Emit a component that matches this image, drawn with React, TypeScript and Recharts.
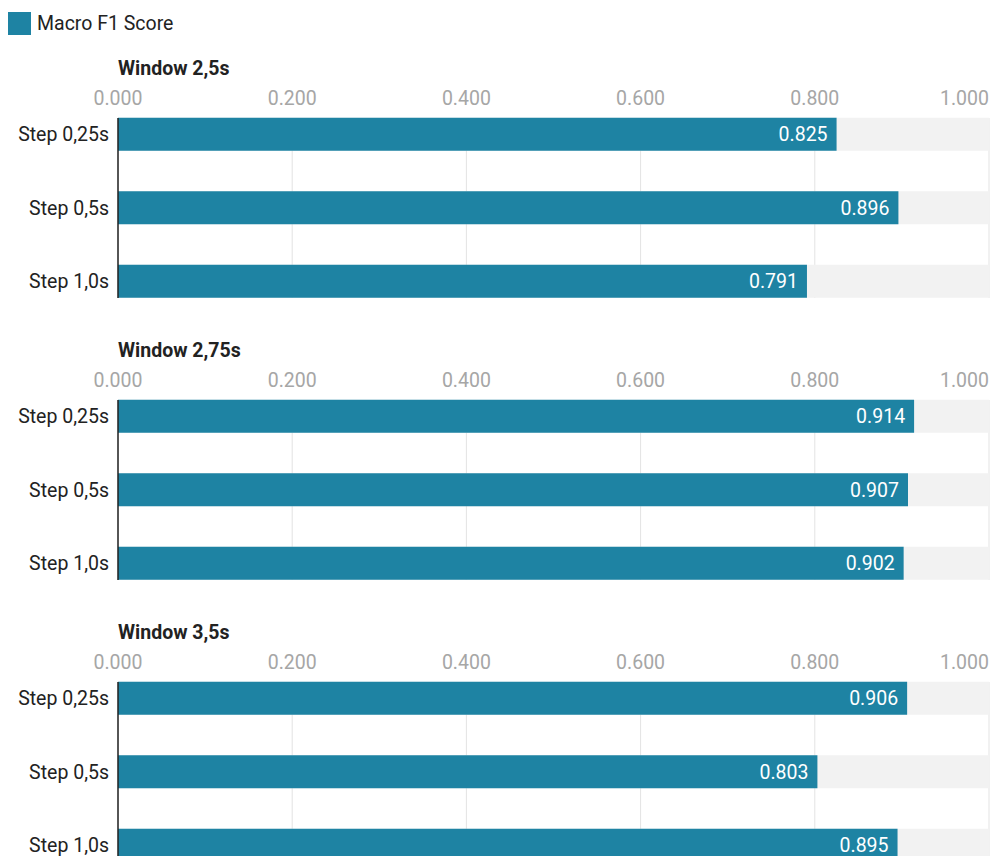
import { Bar, BarChart, CartesianGrid, LabelList, XAxis, YAxis } from "recharts";

const steps = ["Step 0,25s", "Step 0,5s", "Step 1,0s"];
const windows = ["Window 2,5s", "Window 2,75s", "Window 3,5s"];
const window25 = [0.825, 0.896, 0.791];
const window275 = [0.914, 0.907, 0.902];
const window35 = [0.906, 0.803, 0.895];
const xTicks = [0, 0.2, 0.4, 0.6, 0.8, 1.0];

const seriesByWindow = [window25, window275, window35];

const BAR_COLOR = "#1e83a3";
const FONT = "Roboto, 'Noto Sans', sans-serif";
const TEXT_SIZE = 19.5;
const PANEL_PITCH = 282;

// top-axis tick; the last label is pulled in so it ends on the 1.000 gridline
function XTick(props: any) {
  const { x, y, payload } = props;
  const last = payload.value === 1;
  return (
    <text
      x={x}
      y={y}
      dy={-3}
      textAnchor={last ? "end" : "middle"}
      fill="#a6a6a6"
      fontSize={TEXT_SIZE}
      fontFamily={FONT}
    >
      {Number(payload.value).toFixed(3)}
    </text>
  );
}

function Panel({ title, values, top }: { title: string; values: number[]; top: number }) {
  const data = steps.map((step, i) => ({ step, score: values[i] }));

  return (
    <div style={{ position: "absolute", left: 0, top, width: 992, height: PANEL_PITCH + 40 }}>
      <div
        style={{
          position: "absolute",
          left: 118,
          top: 57,
          fontSize: 19.5,
          lineHeight: "24px",
          fontWeight: 700,
          color: "#222",
        }}
      >
        {title}
      </div>
      <div style={{ position: "absolute", left: 0, top: 40 }}>
        <BarChart
          width={992}
          height={282}
          data={data}
          layout="vertical"
          margin={{ top: 48, right: 3, bottom: 24, left: 0 }}
          barSize={33}
        >
          <CartesianGrid horizontal={false} stroke="#e3e3e3" />
          <XAxis
            type="number"
            orientation="top"
            domain={[0, 1]}
            ticks={xTicks}
            height={30}
            axisLine={false}
            tickLine={false}
            tickSize={0}
            tickMargin={10}
            tick={<XTick />}
            interval={0}
          />
          <YAxis
            type="category"
            dataKey="step"
            width={118}
            padding={{ top: -20.25, bottom: -20.25 }}
            axisLine={{ stroke: "#222", strokeWidth: 1.5 }}
            tickLine={false}
            tickSize={0}
            tickMargin={9}
            tick={{ fill: "#222", fontSize: TEXT_SIZE, fontFamily: FONT }}
          />
          <Bar
            dataKey="score"
            fill={BAR_COLOR}
            background={{ fill: "#f2f2f2" }}
            isAnimationActive={false}
          >
            <LabelList
              dataKey="score"
              position="insideRight"
              offset={9}
              fill="#fff"
              fontSize={TEXT_SIZE}
              fontFamily={FONT}
              formatter={(v: any) => Number(v).toFixed(3)}
            />
          </Bar>
        </BarChart>
      </div>
    </div>
  );
}

export default function App() {
  return (
    <div
      style={{
        position: "absolute",
        left: 0,
        top: 0,
        width: 992,
        height: 856,
        overflow: "hidden",
        background: "#fff",
        fontFamily: FONT,
      }}
    >
      <div style={{ position: "absolute", left: 8, top: 12, display: "flex", alignItems: "center" }}>
        <div style={{ width: 23, height: 23, background: BAR_COLOR }} />
        <span style={{ marginLeft: 6, fontSize: TEXT_SIZE, color: "#222" }}>Macro F1 Score</span>
      </div>
      {windows.map((title, i) => (
        <Panel key={title} title={title} values={seriesByWindow[i]} top={i * PANEL_PITCH} />
      ))}
    </div>
  );
}
